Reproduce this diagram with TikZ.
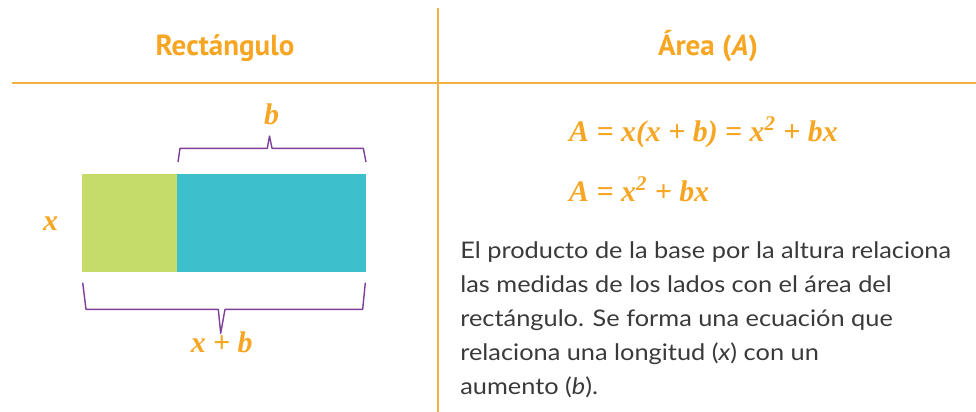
\documentclass[tikz,border=0pt]{standalone}
\usepackage[no-math]{fontspec}
\setmainfont{Lato}[FakeStretch=1.11]
\newfontfamily\headfont{PT Sans}
\newfontfamily\ecfont{Liberation Serif}
\usetikzlibrary{positioning}
\definecolor{naranja}{HTML}{F6A623}
\definecolor{linea}{HTML}{F3B043}
\definecolor{morado}{HTML}{7D3F98}
\definecolor{verde}{HTML}{C5DB6A}
\definecolor{cian}{HTML}{3EBFCC}
\definecolor{texto}{HTML}{3A3A3A}
\newcommand{\ec}[1]{{\ecfont\bfseries\itshape #1}}
\tikzset{titulo/.style={text=naranja, font=\headfont\bfseries\fontsize{16.5}{18}\selectfont, anchor=base},
  etq/.style={text=naranja, font=\fontsize{17}{20}\selectfont, anchor=base},
  llave/.style={draw=morado, line width=0.8pt, line join=round}}

\begin{document}
\begin{tikzpicture}[x=0.02cm, y=-0.02cm]
    \useasboundingbox (0,0) rectangle (976,412);
    % tabla
    \draw[linea, line width=0.6pt] (12,83) -- (976,83);
    \draw[linea, line width=0.6pt] (438,8) -- (438,412);
    \node[titulo](t1) at (225,56) {Rectángulo};
    \node[titulo](t2) at (708,56) {Área (\textit{A})};

    % rectangulo
    \fill[verde] (82,174) rectangle (177,272);
    \fill[cian] (177,174) rectangle (366,272);

    \coordinate (b0) at (178,162);
    \coordinate (b1) at (366,162);
    \draw[llave] (b0) -- (180,148.3) -- (267.3,148.3) -- (269.5,136) -- (272,148.3) -- (363.3,148.3) -- (b1);
    \coordinate (c0) at (82.7,282.7);
    \coordinate (c1) at (365.3,282.7);
    \draw[llave] (c0) -- (86,309.3) -- (218.3,309.3) -- (220.7,333.3) -- (225,309.3) -- (362.7,309.3) -- (c1);

    \node[etq](lb) at (271.7,124) {\ec{b}};
    \node[etq](lx) at (50.7,230) {\ec{x}};
    \node[etq](lxb) at (221.7,352) {\ec{x + b}};

    % area
    \node[etq, anchor=base west](e1) at (563,141.7) {\ec{A = x(x + b) = x\textsuperscript{2} + bx}};
    \node[etq, anchor=base west](e2) at (563,201.7) {\ec{A = x\textsuperscript{2} + bx}};
    \node[text=texto, anchor=north west, align=left, inner sep=0,
      font=\fontsize{13}{19.35}\selectfont](p) at (460,241.5)
      {El producto de la base por la altura relaciona\\
       las medidas de los lados con el área del\\
       rectángulo. Se forma una ecuación que\\
       relaciona una longitud (\textit{x}) con un\\
       aumento (\textit{b}).};
\end{tikzpicture}
\end{document}
